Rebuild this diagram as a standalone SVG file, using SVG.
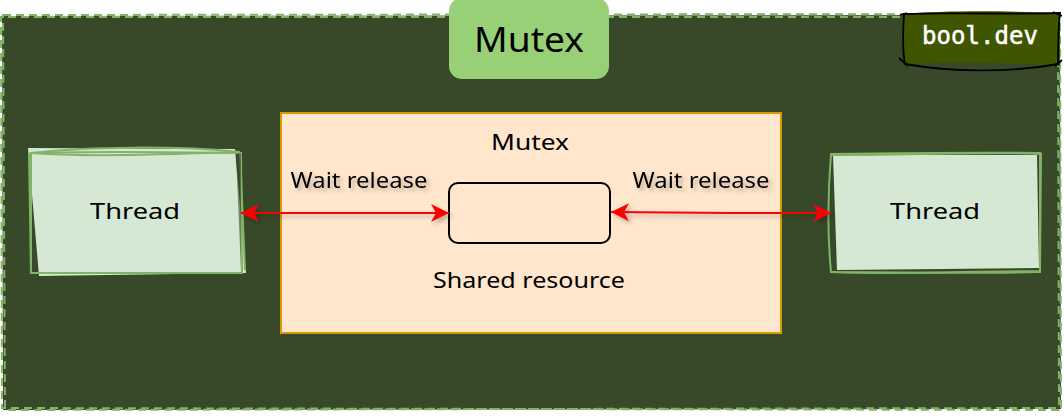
<svg xmlns="http://www.w3.org/2000/svg" width="1064" height="416" viewBox="0 0 1064 416">
<style>
.t{font-family:"Noto Sans","Open Sans",sans-serif;fill:#000;text-anchor:middle;font-weight:400}
.l{font-size:21px}
.sk{fill:none;stroke:#82b366;stroke-width:2}
.fr{fill:none;stroke:#82b366;stroke-width:2;stroke-dasharray:8 5}
.bd{fill:none;stroke:#000;stroke-width:1.8}
.cn{fill:none;stroke:#f00;stroke-width:2}
</style>
<defs>
<marker id="a" viewBox="0 0 18 18" refX="18" refY="9" markerWidth="18" markerHeight="18" markerUnits="userSpaceOnUse" orient="auto-start-reverse"><path d="M0 0L18 9L0 18L5 9Z" fill="#f00"/></marker>
<filter id="s" filterUnits="userSpaceOnUse" x="0" y="100" width="1064" height="160"><feDropShadow dx="3" dy="3" stdDeviation="2.2" flood-color="#000" flood-opacity="0.25"/></filter>
</defs>
<g id="frame">
<path d="M2 16L1060 15L1061 409L3 410Z" fill="#38492a"/>
<path class="fr" d="M3 15L1060 14L1061 408L5 410Z"/>
<path class="fr" stroke-dashoffset="6" d="M1 17L1058 17L1059 410L2 408Z"/>
</g>
<g id="title">
<rect x="449" y="-2" width="160" height="81" rx="13" fill="#97d077"/>
<text class="t" x="529" y="52" font-size="35" textLength="110" lengthAdjust="spacingAndGlyphs">Mutex</text>
</g>
<g id="brand">
<path d="M901 14C950 10 1010 11 1060 13L1060 66C1000 62 950 62 903 64Z" fill="#3f5500"/>
<path class="bd" d="M904 14C960 12 1010 15 1060 13C1058 30 1058 50 1058 64C1010 73 950 72 905 64C902 50 903 30 904 14Z"/>
<path class="bd" d="M900 15L907 13M1053 12L1062 16M899 58L908 66M1055 66L1062 60"/>
<text x="980" y="44" font-family="'DejaVu Sans Mono','Liberation Mono',monospace" font-size="24" fill="#fff" stroke="#fff" stroke-width=".5" text-anchor="middle" textLength="116">bool.dev</text>
</g>
<g id="mutex-box">
<rect x="281" y="113" width="500" height="220" fill="#ffe6cc" stroke="#d79b00" stroke-width="2"/>
<text class="t l" x="530" y="150" textLength="78" lengthAdjust="spacingAndGlyphs">Mutex</text>
<text class="t l" x="529" y="288" textLength="192" lengthAdjust="spacingAndGlyphs">Shared resource</text>
</g>
<g id="resource">
<rect x="449" y="183" width="161" height="60" rx="9" fill="none" stroke="#000" stroke-width="2"/>
</g>
<g id="thread-left">
<path d="M28 148L235 149L246 273L39 276Z" fill="#d5e8d4"/>
<path class="sk" d="M31 153C100 151 170 152 241 153L242 273L31 273Z"/>
<path class="sk" d="M31 153C90 146 180 146 240 152C90 157 70 155 31 153ZM29 153L31 273M240 152L245 270"/>
<path d="M236 154L241 153L241 270Z" fill="#38492a" opacity=".6"/>
<text class="t l" x="135" y="219" textLength="90" lengthAdjust="spacingAndGlyphs">Thread</text>
</g>
<g id="thread-right">
<path d="M833 155H1037L1039 268L837 270Z" fill="#d5e8d4"/>
<path class="sk" d="M831 154C900 153 970 152 1040 153L1040 272C970 274 900 272 831 272C827 230 828 190 831 154Z"/>
<path class="sk" d="M831 155C901 156 970 151 1041 154L1040 271C970 271 900 275 832 272"/>
<text class="t l" x="935" y="219" textLength="90" lengthAdjust="spacingAndGlyphs">Thread</text>
</g>
<g id="connectors" filter="url(#s)">
<path class="cn" d="M241 213H449" marker-start="url(#a)" marker-end="url(#a)"/>
<path class="cn" d="M611 212C680 213 760 213 831 213" marker-start="url(#a)" marker-end="url(#a)"/>
</g>
<g id="edge-labels" filter="url(#s)">
<text class="t l" x="359" y="188" textLength="137" lengthAdjust="spacingAndGlyphs">Wait release</text>
<text class="t l" x="701" y="188" textLength="137" lengthAdjust="spacingAndGlyphs">Wait release</text>
</g>
</svg>
